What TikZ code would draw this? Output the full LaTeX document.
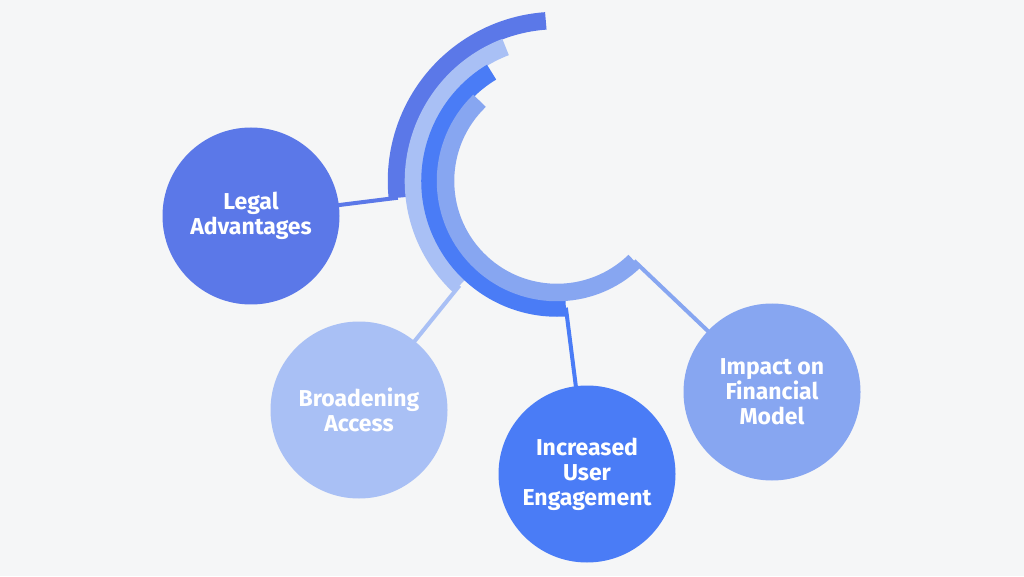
\documentclass[tikz,border=0pt]{standalone}
\usepackage{fontspec}
\setmainfont{Fira Sans}
\usetikzlibrary{calc}
\definecolor{bg}{HTML}{F5F6F7}
\definecolor{cLegal}{HTML}{5B78E8}
\definecolor{cBroad}{HTML}{A9C0F5}
\definecolor{cUser}{HTML}{4A7CF6}
\definecolor{cImpact}{HTML}{87A6F1}
\begin{document}
\begin{tikzpicture}[x=1pt,y=1pt,
  bubble/.style={circle, minimum size=177pt, inner sep=0pt, text=white,
    align=center, font=\fontsize{23}{25}\selectfont\bfseries},
  link/.style={line width=4pt},
  band/.style={line width=17.5pt, line cap=butt}]
\fill[bg] (0,0) rectangle (1024,576);
\useasboundingbox (0,0) rectangle (1024,576);
\coordinate (c) at (557,395);
% arc end points
\coordinate (e1) at ($(c)+(186:160)$);
\coordinate (e2) at ($(c)+(227:143)$);
\coordinate (e3) at ($(c)+(274:127)$);
\coordinate (e4) at ($(c)+(314:111)$);
% node positions
\coordinate (pL) at (251,360);
\coordinate (pB) at (359,166);
\coordinate (pU) at (587,102);
\coordinate (pI) at (772,184);
% connectors
\draw[link, cLegal] (pL) -- (e1);
\draw[link, cBroad] (pB) -- (e2);
\draw[link, cUser] (pU) -- (e3);
\draw[link, cImpact] (pI) -- (e4);
% bands
\draw[band, cLegal] ($(c)+(94:160.5)$) arc[start angle=94, end angle=186, radius=160.5];
\draw[band, cBroad] ($(c)+(111:143.5)$) arc[start angle=111, end angle=227, radius=143.5];
\draw[band, cUser] ($(c)+(121:127)$) arc[start angle=121, end angle=274, radius=127];
\draw[band, cImpact] ($(c)+(134:111.5)$) arc[start angle=134, end angle=314, radius=111.5];
% bubbles
\node[bubble, fill=cLegal] (legal) at (pL) {Legal\\Advantages};
\node[bubble, fill=cBroad] (broad) at (pB) {Broadening\\Access};
\node[bubble, fill=cUser] (user) at (pU) {Increased\\User\\Engagement};
\node[bubble, fill=cImpact] (impact) at (pI) {Impact on\\Financial\\Model};
\end{tikzpicture}
\end{document}
